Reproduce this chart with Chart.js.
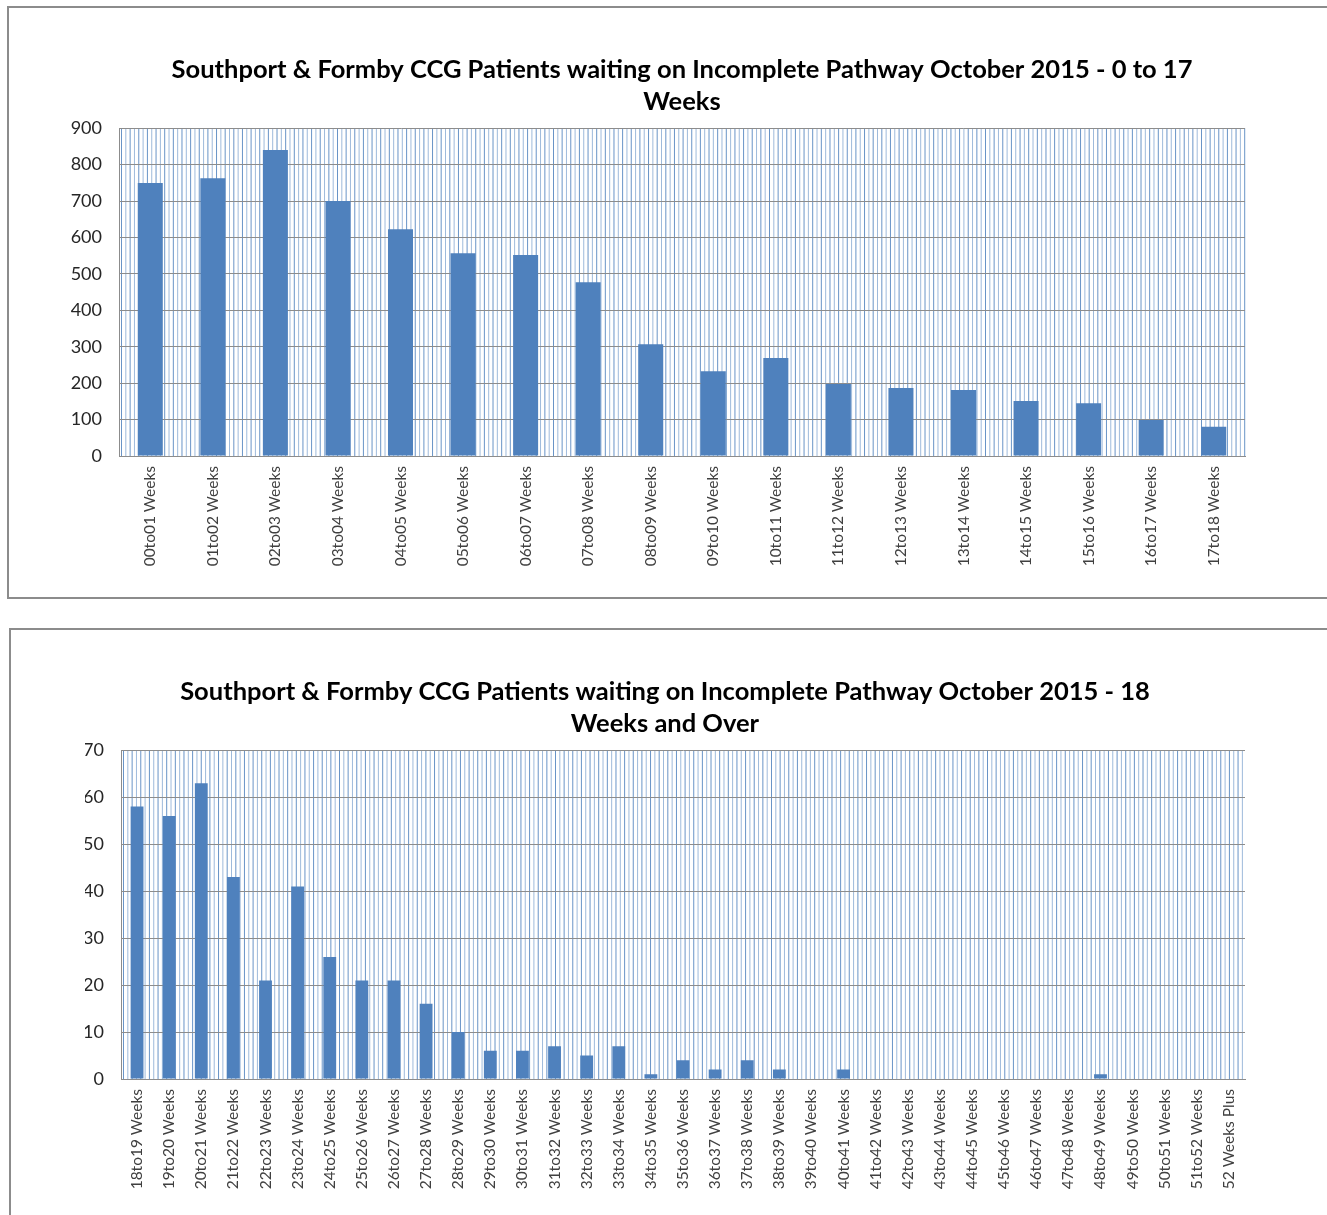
<!DOCTYPE html>
<html>
<head>
<meta charset="utf-8">
<script src="https://cdn.jsdelivr.net/npm/chart.js@4"></script>
<style>
  body { margin: 0; background: #fff; width: 1327px; height: 1215px; overflow: hidden; position: relative; }
  .panel { position: absolute; border: 2px solid #8c8c8c; background: #fff; }
  #p1 { left: 7px; top: 6px; width: 1330px; height: 589px; }
  #p2 { left: 9px; top: 628px; width: 1330px; height: 600px; }
  canvas { position: absolute; left: 0; top: 0; }
</style>
</head>
<body>
<div class="panel" id="p1"><canvas id="c1" width="1318" height="589"></canvas></div>
<div class="panel" id="p2"><canvas id="c2" width="1316" height="585"></canvas></div>
<script>
// categories and values
const weeksLow = ["00to01 Weeks", "01to02 Weeks", "02to03 Weeks", "03to04 Weeks", "04to05 Weeks", "05to06 Weeks",
  "06to07 Weeks", "07to08 Weeks", "08to09 Weeks", "09to10 Weeks", "10to11 Weeks", "11to12 Weeks",
  "12to13 Weeks", "13to14 Weeks", "14to15 Weeks", "15to16 Weeks", "16to17 Weeks", "17to18 Weeks"];
const patientsLow = [750, 763, 840, 700, 623, 557, 552, 477, 307, 233, 269, 198, 187, 181, 151, 145, 99, 80];

const weeksHigh = ["18to19 Weeks", "19to20 Weeks", "20to21 Weeks", "21to22 Weeks", "22to23 Weeks", "23to24 Weeks",
  "24to25 Weeks", "25to26 Weeks", "26to27 Weeks", "27to28 Weeks", "28to29 Weeks", "29to30 Weeks",
  "30to31 Weeks", "31to32 Weeks", "32to33 Weeks", "33to34 Weeks", "34to35 Weeks", "35to36 Weeks",
  "36to37 Weeks", "37to38 Weeks", "38to39 Weeks", "39to40 Weeks", "40to41 Weeks", "41to42 Weeks",
  "42to43 Weeks", "43to44 Weeks", "44to45 Weeks", "45to46 Weeks", "46to47 Weeks", "47to48 Weeks",
  "48to49 Weeks", "49to50 Weeks", "50to51 Weeks", "51to52 Weeks", "52 Weeks Plus"];
const patientsHigh = [58, 56, 63, 43, 21, 41, 26, 21, 21, 16, 10, 6, 6, 7, 5, 7, 1, 4, 2, 4, 2, 0, 2, 0,
  0, 0, 0, 0, 0, 0, 1, 0, 0, 0, 0];

const titleLow = ["Southport & Formby CCG Patients waiting on Incomplete Pathway October 2015 - 0 to 17", "Weeks"];
const titleHigh = ["Southport & Formby CCG Patients waiting on Incomplete Pathway October 2015 - 18", "Weeks and Over"];

// striped plot-area fill (narrow vertical pattern)
const stripes = {
  id: 'stripes',
  beforeDraw(chart) {
    const a = chart.chartArea, ctx = chart.ctx;
    ctx.save();
    ctx.lineWidth = 1;
    let i = 0;
    for (let x = a.left + 2.5; x < a.right; x += 4.32, i++) {
      ctx.strokeStyle = i % 2 ? 'rgba(79,129,189,0.55)' : 'rgba(79,129,189,0.85)';
      ctx.beginPath();
      ctx.moveTo(x, a.top);
      ctx.lineTo(x, a.bottom);
      ctx.stroke();
    }
    ctx.restore();
  }
};

// padLeft + yWidth always = 110, so the plot starts at the same place; padLeft only moves the title centre
function makeChart(id, labels, values, title, yMax, yStep, bottomH, padLeft, titleFull) {
  return new Chart(document.getElementById(id), {
    type: 'bar',
    data: {
      labels: labels,
      datasets: [{ data: values, backgroundColor: '#4F81BD', barPercentage: 0.4, categoryPercentage: 1 }]
    },
    options: {
      responsive: false,
      animation: false,
      layout: { padding: { left: padLeft, right: 82, top: 0, bottom: 0 } },
      plugins: {
        legend: { display: false },
        tooltip: { enabled: false },
        title: {
          display: true, text: title, fullSize: titleFull, color: '#000',
          font: { family: 'Lato', size: 25.5, weight: 'bold', lineHeight: 1.26 },
          padding: { top: 46, bottom: 10 }
        }
      },
      scales: {
        x: {
          grid: { display: false },
          border: { color: '#8c8c8c' },
          ticks: { minRotation: 90, maxRotation: 90, padding: 2, color: '#404040', font: { family: 'Lato', size: 15.5 } },
          afterFit: s => { s.height = bottomH; }
        },
        y: {
          min: 0, max: yMax,
          grid: { color: '#8c8c8c', drawTicks: false },
          border: { color: '#8c8c8c' },
          ticks: { stepSize: yStep, padding: 17, color: '#262626', font: { family: 'Lato', size: 18 } },
          afterFit: s => { s.width = 110 - padLeft; }
        }
      }
    },
    plugins: [stripes]
  });
}

makeChart('c1', weeksLow, patientsLow, titleLow, 900, 100, 141, 0, false);
makeChart('c2', weeksHigh, patientsHigh, titleHigh, 70, 10, 136, 74, true);
</script>
</body>
</html>
